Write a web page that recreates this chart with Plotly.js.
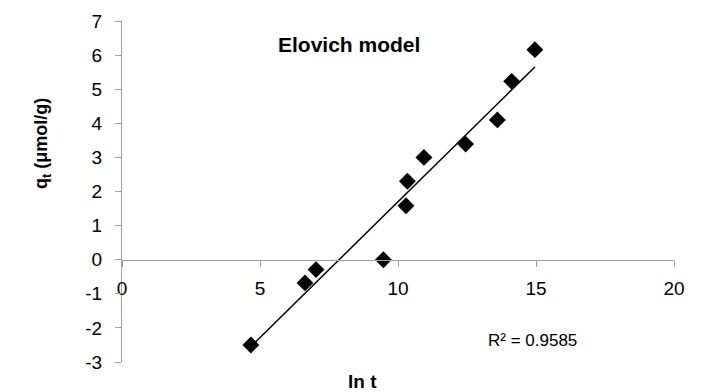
<!DOCTYPE html>
<html>
<head>
<meta charset="utf-8">
<script src="https://cdn.plot.ly/plotly-3.0.1.min.js"></script>
<style>html,body{margin:0;padding:0;background:#fff;}#chart{width:707px;height:392px;}</style>
</head>
<body>
<div id="chart"></div>
<script>
// Data
const lnT = [4.67, 6.63, 7.03, 9.47, 10.29, 10.34, 10.94, 12.45, 13.60, 14.12, 14.96];
const qt  = [-2.50, -0.68, -0.29, 0.00, 1.58, 2.30, 3.00, 3.39, 4.10, 5.23, 6.16];
const xTicks = [0, 5, 10, 15, 20];
const yTicks = [-3, -2, -1, 0, 1, 2, 3, 4, 5, 6, 7];
const chartTitle = "Elovich model";
const r2Label = "R² = 0.9585";

// Least-squares linear trendline
const n = lnT.length;
const mx = lnT.reduce((a,b)=>a+b,0)/n;
const my = qt.reduce((a,b)=>a+b,0)/n;
let sxy=0, sxx=0;
for (let i=0;i<n;i++){ sxy += (lnT[i]-mx)*(qt[i]-my); sxx += (lnT[i]-mx)**2; }
const slope = sxy/sxx, icpt = my - slope*mx;
const xMin = Math.min(...lnT), xMax = Math.max(...lnT);
const fitX = [xMin, xMax];
const fitY = fitX.map(x => slope*x + icpt);

const FONT = "Liberation Sans, Arial, sans-serif";
const axisGrey = "#a0a0a0";

const traces = [
  {x: fitX, y: fitY, mode: "lines", line: {color: "#000", width: 1.5}, hoverinfo: "skip", showlegend: false},
  {x: lnT, y: qt, mode: "markers", marker: {symbol: "diamond", size: 13, color: "#000"}, showlegend: false}
];

const layout = {
  width: 707, height: 392,
  margin: {l: 122, r: 33, t: 21, b: 30},
  paper_bgcolor: "#fff", plot_bgcolor: "#fff",
  font: {family: FONT, color: "#000", size: 18},
  showlegend: false,
  xaxis: {
    range: [0, 20], tickvals: xTicks, ticktext: xTicks.map(String),
    showgrid: false, zeroline: false, showline: true, linecolor: axisGrey, linewidth: 1,
    ticks: "outside", ticklen: 6, tickcolor: axisGrey, tickwidth: 1,
    anchor: "free", position: 0.3, ticklabelstandoff: 5,
    tickfont: {family: FONT, size: 19, color: "#000"}
  },
  yaxis: {
    range: [-3, 7], tickvals: yTicks, ticktext: yTicks.map(String),
    showgrid: false, zeroline: false, showline: true, linecolor: axisGrey, linewidth: 1,
    ticks: "outside", ticklen: 6, tickcolor: axisGrey, tickwidth: 1,
    ticklabelstandoff: 9,
    tickfont: {family: FONT, size: 19, color: "#000"}
  },
  annotations: [
    {text: "<b>" + chartTitle + "</b>", xref: "paper", yref: "paper", x: 0.411, y: 0.93,
     xanchor: "center", yanchor: "middle", showarrow: false, font: {family: FONT, size: 21, color: "#000"}},
    {text: r2Label, xref: "paper", yref: "paper", x: 0.744, y: 0.0645,
     xanchor: "center", yanchor: "middle", showarrow: false, font: {family: FONT, size: 17, color: "#000"}},
    {text: "<b>ln t</b>", xref: "paper", yref: "paper", x: 0.435, y: -0.056,
     xanchor: "center", yanchor: "middle", showarrow: false, font: {family: FONT, size: 19, color: "#000"}},
    {text: "<b>q<sub>t</sub> (μmol/g)</b>", xref: "paper", yref: "paper", x: -0.145, y: 0.642,
     xanchor: "center", yanchor: "middle", textangle: -90, showarrow: false, font: {family: FONT, size: 18, color: "#000"}}
  ]
};

Plotly.newPlot("chart", traces, layout, {displayModeBar: false, staticPlot: true});
</script>
</body>
</html>
